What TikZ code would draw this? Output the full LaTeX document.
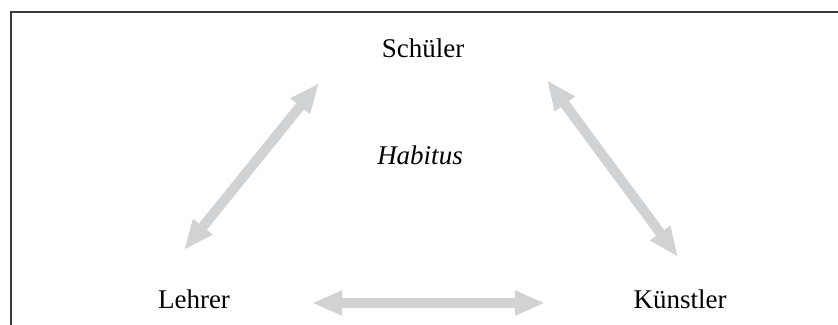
\documentclass[tikz,border=0pt]{standalone}
\usepackage{fontspec}
\setmainfont{Liberation Serif}
\usetikzlibrary{arrows.meta}
\definecolor{arrowgray}{HTML}{D1D2D4}
\definecolor{framegray}{HTML}{3A3A3A}
\tikzset{
  label/.style={anchor=base, inner sep=0pt, font=\fontsize{27}{32}\selectfont},
  biarrow/.style={draw=arrowgray, line width=10pt,
    {Triangle[length=30pt,width=23pt]}-{Triangle[length=30pt,width=23pt]}},
  frame/.style={draw=framegray, line width=1.4pt}
}
\begin{document}
\begin{tikzpicture}[x=1pt,y=-1pt]
\useasboundingbox (0,0) rectangle (838,324);
\draw[frame] (11,330) -- (11,12) -- (845,12);
\node[label] (s) at (423,57) {Schüler};
\node[label] (h) at (420,164) {\itshape Habitus};
\node[label] (l) at (194,308) {Lehrer};
\node[label] (k) at (680,308) {Künstler};
\coordinate (ls1) at (184,250);
\coordinate (ls2) at (319,83);
\coordinate (sk1) at (547,80);
\coordinate (sk2) at (678,257);
\coordinate (lk1) at (312,303);
\coordinate (lk2) at (545,303);
\draw[biarrow] (ls1) -- (ls2);
\draw[biarrow] (sk1) -- (sk2);
\draw[biarrow] (lk1) -- (lk2);
\end{tikzpicture}
\end{document}
